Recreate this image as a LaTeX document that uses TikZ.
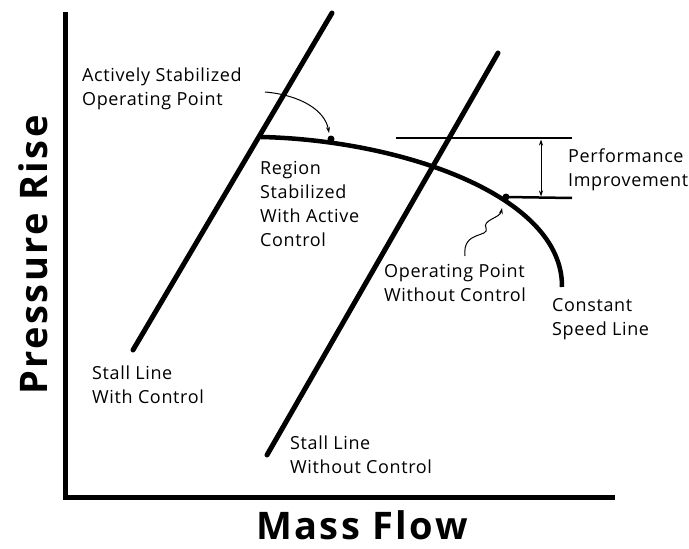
\documentclass[tikz,border=0pt]{standalone}
\usepackage{fontspec}
\setmainfont{Open Sans}
\usetikzlibrary{arrows.meta}
\tikzset{
	stallline/.style={line width=5pt, line cap=round},
	lbl/.style={anchor=west, align=left, inner sep=0pt, font=\fontsize{18}{24}\selectfont\addfontfeatures{LetterSpace=3.5}},
	axislbl/.style={inner sep=0pt, font=\fontsize{38}{38}\selectfont\bfseries\addfontfeatures{LetterSpace=6.5}},
}
\begin{document}
\begin{tikzpicture}[x=1pt, y=-1pt]
		\useasboundingbox (0,0) rectangle (689,549);

		% axes
		\draw[line width=5pt] (65,12) -- (65,497) -- (615,497);
		\node[axislbl, anchor=base] (xlab) at (362,539) {Mass Flow};
		\node[axislbl, rotate=90] (ylab) at (33,255) {Pressure Rise};

		% stall lines
		\draw[stallline] (133,350) -- (332,13);
		\draw[stallline] (267,455) -- (498,53);

		% constant speed line
		\draw[line width=4.5pt] (261,137) .. controls (400,140) and (563,195) .. (562,287);

		% operating points
		\coordinate (actpt) at (331,139);
		\coordinate (oppt) at (506,197);
		\fill (actpt) circle (3.5);
		\fill (oppt) circle (3.5);

		% performance improvement
		\draw[line width=2.5pt] (396,138) -- (572,138);
		\draw[line width=2.5pt] (oppt) -- (572,198);
		\draw[{Stealth[length=6pt,width=4pt]}-{Stealth[length=6pt,width=4pt]}, line width=1pt] (541,139.5) -- (541,196.5);

		% labels
		\node[lbl] (act) at (82,89) {Actively Stabilized\\Operating Point};
		\node[lbl] (reg) at (260,204) {Region\\Stabilized\\With Active\\Control};
		\node[lbl] (perf) at (568,170) {Performance\\Improvement};
		\node[lbl] (opw) at (384,283) {Operating Point\\Without Control};
		\node[lbl] (csl) at (552,319) {Constant\\Speed Line};
		\node[lbl] (swc) at (92,385) {Stall Line\\With Control};
		\node[lbl] (swo) at (290,455) {Stall Line\\Without Control};

		% pointer arrows
		\draw[-{Stealth[length=6pt,width=4pt]}, line width=1pt] (265,92) .. controls (300,95) and (325,110) .. (329,133);
		\draw[-{Stealth[length=6pt,width=4pt]}, line width=1pt] (465,256) .. controls (462,230) and (490,238) .. (486,228) .. controls (482,220) and (500,218) .. (502,208);
\end{tikzpicture}
\end{document}
